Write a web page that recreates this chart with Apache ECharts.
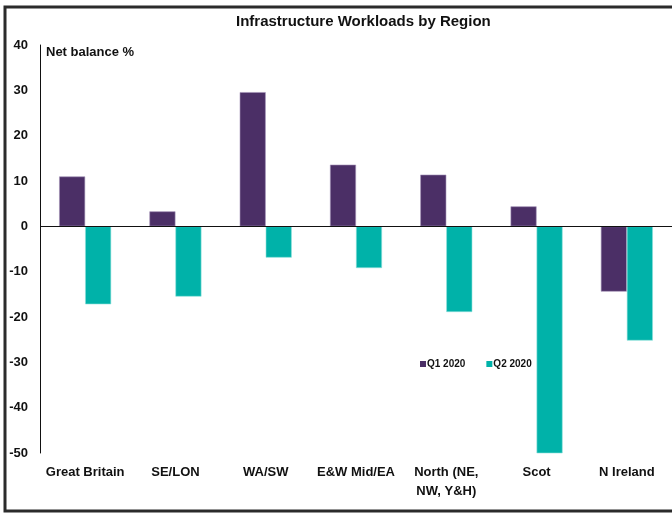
<!DOCTYPE html>
<html>
<head>
<meta charset="utf-8">
<script src="https://cdn.jsdelivr.net/npm/echarts@6/dist/echarts.min.js"></script>
<style>
  html, body { margin: 0; padding: 0; background: #fff; }
  #chart { width: 672px; height: 514px; }
</style>
</head>
<body>
<div id="chart"></div>
<script>
// values
const categories = ['Great Britain', 'SE/LON', 'WA/SW', 'E&W Mid/EA', 'North (NE,\nNW, Y&H)', 'Scot', 'N Ireland'];
const q1 = [11, 3.3, 29.6, 13.6, 11.4, 4.4, -14.4];
const q2 = [-17.2, -15.5, -6.9, -9.2, -18.9, -50.3, -25.2];
const yTicks = { min: -50, max: 40, step: 10 };

const FONT = '"Liberation Sans", Arial, sans-serif';

const chart = echarts.init(document.getElementById('chart'));

chart.setOption({
  animation: false,
  backgroundColor: '#fff',
  title: {
    text: 'Infrastructure Workloads by Region',
    left: 231,
    top: 9,
    textStyle: { fontFamily: FONT, fontWeight: 'bold', fontSize: 15, color: '#111' }
  },
  legend: {
    left: 415,
    top: 354,
    icon: 'rect',
    itemWidth: 6,
    itemHeight: 6,
    itemGap: 21,
    itemStyle: { borderWidth: 0 },
    textStyle: { fontFamily: FONT, fontWeight: 'bold', fontSize: 10, color: '#111', padding: [0, 0, 0, -4] }
  },
  grid: { left: 40, right: -3, top: 45, bottom: 61 },
  xAxis: {
    type: 'category',
    data: categories,
    axisLine: { show: false, onZero: false },
    axisTick: { show: false },
    axisLabel: {
      interval: 0,
      margin: 10,
      lineHeight: 19,
      fontFamily: FONT, fontWeight: 'bold', fontSize: 13, color: '#111'
    }
  },
  yAxis: {
    type: 'value',
    min: yTicks.min,
    max: yTicks.max,
    interval: yTicks.step,
    name: 'Net balance %',
    nameLocation: 'end',
    nameGap: -7,
    nameTextStyle: {
      align: 'left', verticalAlign: 'middle', padding: [0, 0, 0, 6],
      fontFamily: FONT, fontWeight: 'bold', fontSize: 13, color: '#111'
    },
    axisLine: { show: true, lineStyle: { color: '#111', width: 1 } },
    axisTick: { show: false },
    splitLine: { show: false },
    axisLabel: { margin: 12, fontFamily: FONT, fontWeight: 'bold', fontSize: 13, color: '#111' }
  },
  series: [
    {
      name: 'Q1 2020',
      type: 'bar',
      data: q1,
      barWidth: 26,
      barGap: '0%',
      itemStyle: { color: '#4B2F66', borderColor: '#a594b8', borderWidth: 0.6 },
      markLine: {
        silent: true,
        symbol: 'none',
        label: { show: false },
        lineStyle: { color: '#111', width: 1, type: 'solid' },
        data: [{ yAxis: 0 }]
      }
    },
    {
      name: 'Q2 2020',
      type: 'bar',
      data: q2,
      barWidth: 26,
      itemStyle: { color: '#00B2A9', borderColor: '#8fe0db', borderWidth: 0.6 }
    }
  ],
  graphic: [
    {
      type: 'rect',
      silent: true,
      shape: { x: 5, y: 7, width: 720, height: 504 },
      style: { fill: null, stroke: '#2b2b2b', lineWidth: 3 }
    }
  ]
});
</script>
</body>
</html>
